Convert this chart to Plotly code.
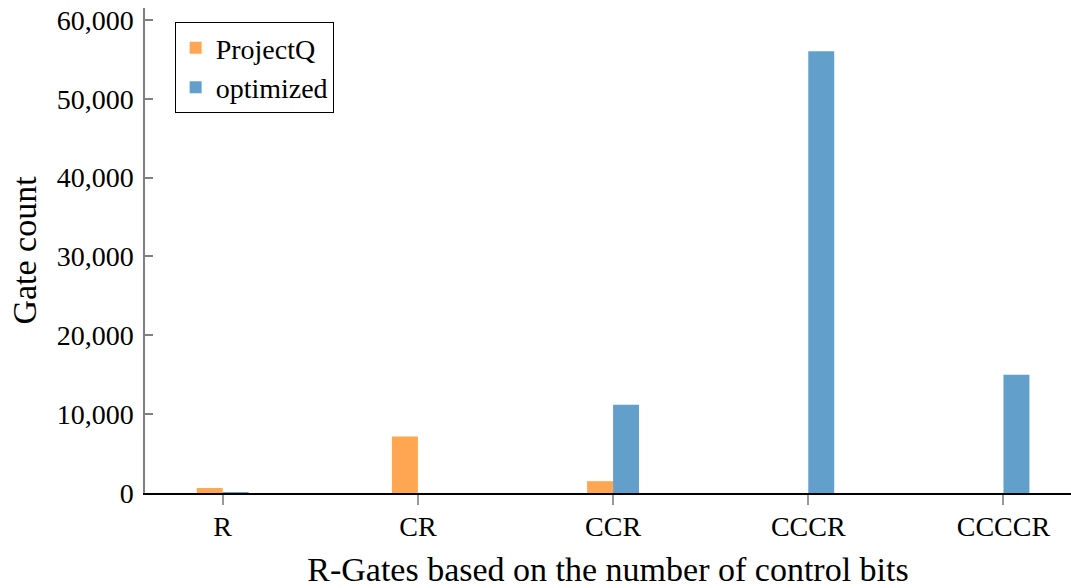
import plotly.graph_objects as go

categories = ["R", "CR", "CCR", "CCCR", "CCCCR"]
projectq = [630, 7150, 1500, 0, 0]
optimized = [40, 0, 11200, 56000, 15000]

font_family = "Liberation Serif, DejaVu Serif, serif"

fig = go.Figure()
fig.add_trace(go.Bar(
    name="ProjectQ", x=list(range(len(categories))), y=projectq,
    marker=dict(color="#FFA652", line=dict(width=0)),
))
fig.add_trace(go.Bar(
    name="optimized", x=list(range(len(categories))), y=optimized,
    marker=dict(color="#62A0CB", line=dict(width=0)),
))

fig.update_layout(
    width=1071, height=588,
    margin=dict(l=145, r=0, t=8, b=95, autoexpand=False),
    barmode="group", bargap=0.734, bargroupgap=0,
    paper_bgcolor="white", plot_bgcolor="white",
    font=dict(family=font_family, size=28, color="black"),
    showlegend=True,
    legend=dict(
        x=0.032, y=0.971, xanchor="left", yanchor="top",
        bgcolor="white", bordercolor="black", borderwidth=1,
        font=dict(size=28), tracegroupgap=0,
    ),
    xaxis=dict(
        range=[-0.398, 4.346], automargin=True,
        tickmode="array", tickvals=list(range(len(categories))), ticktext=categories,
        showline=True, linecolor="black", linewidth=1.5,
        ticks="outside", ticklen=10, tickcolor="#999999", tickwidth=2,
        showgrid=False, zeroline=False,
        ticklabelstandoff=-2,
        title=dict(text="R-Gates based on the number of control bits", standoff=16),
    ),
    yaxis=dict(
        range=[0, 61500], automargin=True,
        tickvals=[0, 10000, 20000, 30000, 40000, 50000, 60000],
        tickformat=",d",
        showline=True, linecolor="#808080", linewidth=1.5,
        ticks="inside", ticklen=8, tickcolor="#808080", tickwidth=1.5,
        showgrid=False, zeroline=False,
        ticklabelstandoff=4,
        title=dict(text="Gate count", standoff=10),
    ),
)

fig.write_html("out.html", config={"displayModeBar": False},
               post_script="document.body.style.margin='0';")
